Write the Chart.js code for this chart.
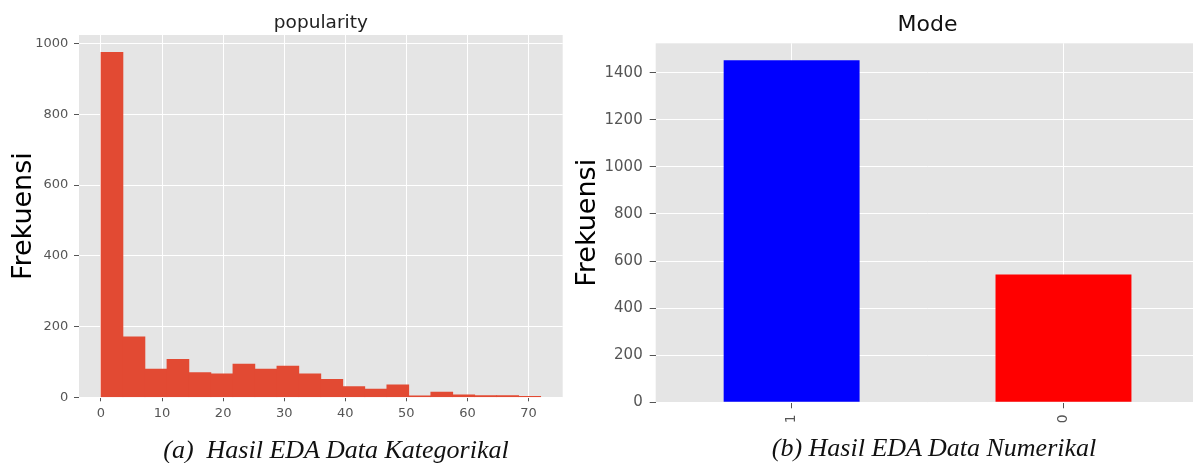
<!DOCTYPE html>
<html>
<head>
<meta charset="utf-8">
<script src="https://cdn.jsdelivr.net/npm/chart.js@4"></script>
<style>
    html, body { margin: 0; padding: 0; background: #fff; }
    #page { position: relative; width: 1193px; height: 463px; overflow: hidden; }
    .panel { position: absolute; top: 0; height: 463px; }
    .caption {
        position: absolute;
        font-family: "Liberation Serif", "Times New Roman", serif;
        font-style: italic;
        font-size: 26px;
        line-height: 30px;
        color: #111;
        white-space: pre;
        transform: translateX(-50%);
    }
</style>
</head>
<body>
<div id="page">
    <div class="panel" style="left:0; width:580px;"><canvas id="popularityChart"></canvas></div>
    <div class="panel" style="left:560px; width:660px;"><canvas id="modeChart"></canvas></div>
    <div class="caption" style="left:336px; top:435px;">(a)  Hasil EDA Data Kategorikal</div>
    <div class="caption" style="left:934px; top:433px;">(b) Hasil EDA Data Numerikal</div>
</div>
<script>
// popularity histogram (bin centres, bin width 3.6)
const binCenters = [1.8, 5.4, 9.0, 12.6, 16.2, 19.8, 23.4, 27.0, 30.6, 34.2,
                    37.8, 41.4, 45.0, 48.6, 52.2, 55.8, 59.4, 63.0, 66.6, 70.2];
const popularityCounts = [975, 171, 80, 107, 70, 66, 94, 80, 88, 66,
                          51, 30, 23, 35, 4, 15, 7, 5, 5, 3];
const popularityXTicks = [0, 10, 20, 30, 40, 50, 60, 70];
const popularityYTicks = [0, 200, 400, 600, 800, 1000];

// Mode bar chart
const modeCategories = ['1', '0'];
const modeCounts = [1453, 543];
const modeColors = ['#0000FF', '#FF0000'];
const modeYTicks = [0, 200, 400, 600, 800, 1000, 1200, 1400];

const tickGray = '#555555';
const plotBg = '#E5E5E5';

// ggplot style grey panel behind the plot
const panelBackground = {
    id: 'panelBackground',
    beforeDraw(chart) {
        const { ctx, chartArea: a } = chart;
        ctx.save();
        ctx.fillStyle = plotBg;
        ctx.fillRect(a.left, a.top, a.right - a.left, a.bottom - a.top);
        ctx.restore();
    }
};

function fixWidth(w) { return scale => { scale.width = w; }; }
function fixHeight(h) { return scale => { scale.height = h; }; }
function useTicks(list) { return scale => { scale.ticks = list.map(v => ({ value: v })); }; }

document.addEventListener('DOMContentLoaded', () => {
    Chart.defaults.font.family = '"DejaVu Sans", sans-serif';
    Chart.defaults.animation = false;

    // (a) popularity histogram
    new Chart(document.getElementById('popularityChart'), {
        type: 'bar',
        data: {
            datasets: [{
                data: binCenters.map((x, i) => ({ x: x, y: popularityCounts[i] })),
                backgroundColor: '#E24A33',
                borderWidth: 0,
                barPercentage: 1,
                categoryPercentage: 1
            }]
        },
        options: {
            responsive: true,
            maintainAspectRatio: false,
            layout: { padding: { left: 0, right: 17.3, top: 0, bottom: 0 } },
            plugins: {
                legend: { display: false },
                tooltip: { enabled: false },
                title: {
                    display: true,
                    text: 'popularity',
                    fullSize: false,
                    color: '#222',
                    font: { size: 18.5, weight: 'normal' },
                    padding: { top: 11.9, bottom: 0.9 }
                }
            },
            scales: {
                x: {
                    type: 'linear',
                    min: -3.6,
                    max: 75.6,
                    offset: false,
                    afterBuildTicks: useTicks(popularityXTicks),
                    afterFit: fixHeight(65.7),
                    border: { display: false },
                    grid: { color: '#FFFFFF', lineWidth: 1, offset: false, tickColor: tickGray, tickLength: 4 },
                    ticks: { color: tickGray, font: { size: 13 }, padding: 5, maxRotation: 0, callback: v => String(v) }
                },
                y: {
                    min: 0,
                    max: 1024,
                    afterBuildTicks: useTicks(popularityYTicks),
                    afterFit: fixWidth(79),
                    border: { display: false },
                    grid: { color: '#FFFFFF', lineWidth: 1, tickColor: tickGray, tickLength: 5 },
                    ticks: { color: tickGray, font: { size: 13 }, padding: 5.7, callback: v => String(v) },
                    title: {
                        display: true,
                        text: 'Frekuensi',
                        color: '#000',
                        font: { size: 27 },
                        padding: { top: 7.8, bottom: 0 }
                    }
                }
            }
        },
        plugins: [panelBackground]
    });

    // (b) Mode bar chart
    new Chart(document.getElementById('modeChart'), {
        type: 'bar',
        data: {
            labels: modeCategories,
            datasets: [{
                data: modeCounts,
                backgroundColor: modeColors,
                borderWidth: 0,
                barPercentage: 0.5,
                categoryPercentage: 1
            }]
        },
        options: {
            responsive: true,
            maintainAspectRatio: false,
            layout: { padding: { left: 0, right: 20.6, top: 0, bottom: 0 } },
            plugins: {
                legend: { display: false },
                tooltip: { enabled: false },
                title: {
                    display: true,
                    text: 'Mode',
                    fullSize: false,
                    color: '#111',
                    font: { size: 22, weight: 'normal' },
                    padding: { top: 12.3, bottom: 4.6 }
                }
            },
            scales: {
                x: {
                    afterFit: fixHeight(60.7),
                    border: { display: false },
                    grid: { color: '#FFFFFF', lineWidth: 1, offset: false, tickColor: tickGray, tickLength: 6 },
                    ticks: { color: tickGray, font: { size: 14 }, padding: 6, minRotation: 90, maxRotation: 90, autoSkip: false }
                },
                y: {
                    min: 0,
                    max: 1525,
                    afterBuildTicks: useTicks(modeYTicks),
                    afterFit: fixWidth(95.7),
                    border: { display: false },
                    grid: { color: '#FFFFFF', lineWidth: 1, tickColor: tickGray, tickLength: 6 },
                    ticks: { color: tickGray, font: { size: 15 }, padding: 7, callback: v => String(v) },
                    title: {
                        display: true,
                        text: 'Frekuensi',
                        color: '#000',
                        font: { size: 27 },
                        padding: { top: 11.8, bottom: 0 }
                    }
                }
            }
        },
        plugins: [panelBackground]
    });
});
</script>
</body>
</html>
